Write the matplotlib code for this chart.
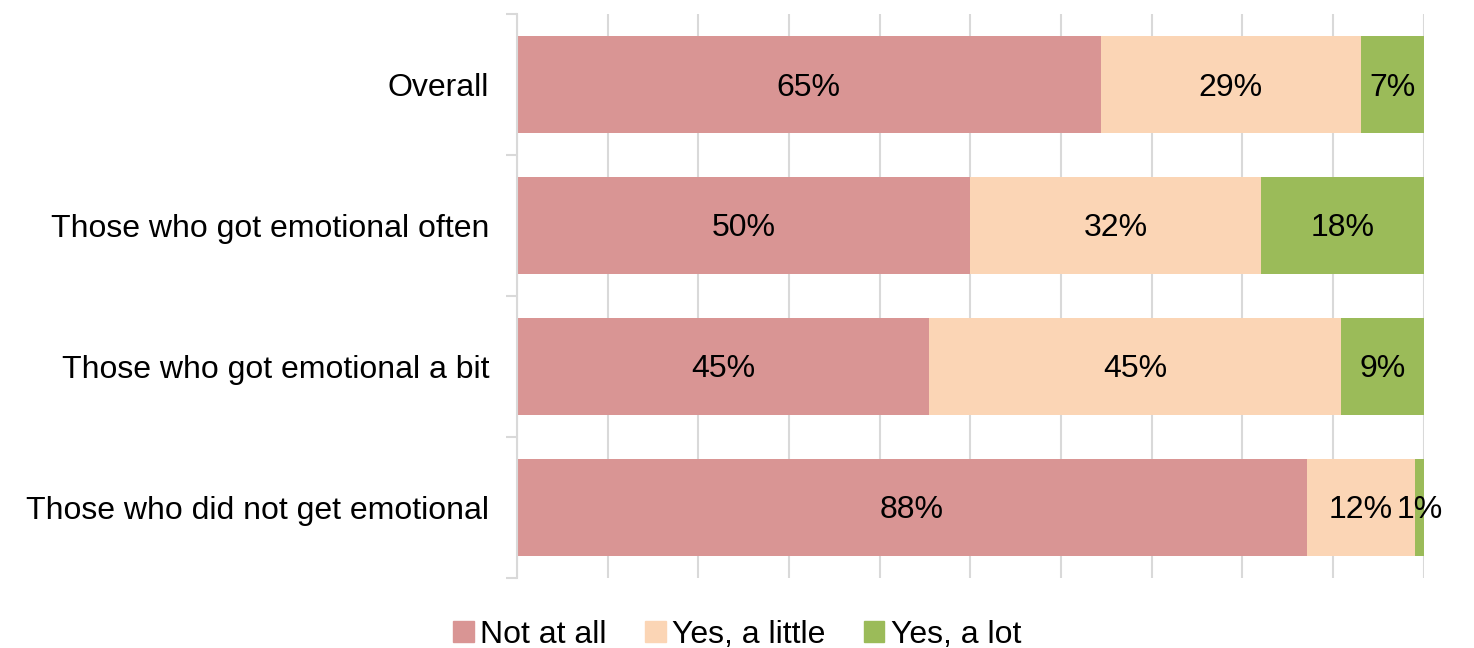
import numpy as np
import matplotlib.pyplot as plt
from matplotlib.patches import Patch

plt.rcParams['font.family'] = ['Liberation Sans', 'DejaVu Sans']

# data
groups = ["Overall", "Those who got emotional often",
          "Those who got emotional a bit", "Those who did not get emotional"]
not_at_all = [65, 50, 45, 88]
a_little = [29, 32, 45, 12]
a_lot = [7, 18, 9, 1]
series_names = ["Not at all", "Yes, a little", "Yes, a lot"]
colors = ["#D99594", "#FBD5B5", "#9BBB59"]

vals = np.array([not_at_all, a_little, a_lot], dtype=float)
shares = vals / vals.sum(axis=0)

fig = plt.figure(figsize=(14.74, 6.48), dpi=100)
ax = fig.add_axes([0.3507, 0.108, 0.6153, 0.870])

y = np.arange(len(groups))
left = np.zeros(len(groups))
for k in range(3):
    ax.barh(y, shares[k], left=left, height=0.69, color=colors[k], zorder=2)
    for i in range(len(groups)):
        cx = left[i] + shares[k][i] / 2
        ax.text(cx, y[i] + 0.02, "%d%%" % vals[k][i], ha="center", va="center",
                fontsize=23, color="black", zorder=3)
    left = left + shares[k]

ax.set_xlim(0, 1)
ax.set_ylim(len(groups) - 0.5, -0.5)
ax.set_xticks(np.arange(0, 1.01, 0.1))
ax.set_xticklabels([])
ax.tick_params(axis="x", length=0)
ax.grid(axis="x", color="#D9D9D9", linewidth=1.5, zorder=0)

ax.set_yticks(y)
ax.set_yticklabels(groups, fontsize=23)
ax.set_yticks(np.arange(-0.5, len(groups), 1), minor=True)
ax.tick_params(axis="y", which="major", length=0, pad=20)
ax.tick_params(axis="y", which="minor", length=8, color="#D9D9D9", width=1.5)

for s in ["top", "right", "bottom"]:
    ax.spines[s].set_visible(False)
ax.spines["left"].set_color("#D9D9D9")
ax.spines["left"].set_linewidth(1.5)

handles = [Patch(color=c, label=n) for c, n in zip(colors, series_names)]
fig.legend(handles=handles, loc="center", bbox_to_anchor=(0.5, 0.02),
           ncol=3, frameon=False, fontsize=23, handlelength=0.65,
           handleheight=0.65, handletextpad=0.2, columnspacing=1.2)

fig.savefig("out.png", dpi=100)
